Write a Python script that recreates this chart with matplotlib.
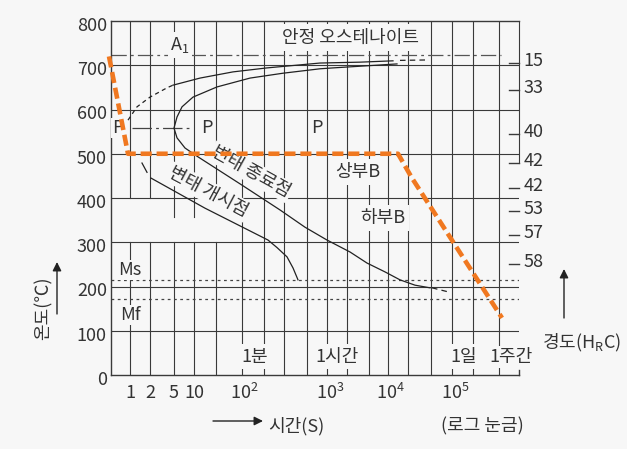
import numpy as np
import matplotlib.pyplot as plt

plt.rcParams['font.family'] = ['Noto Sans CJK KR', 'DejaVu Sans']
plt.rcParams['lines.scale_dashes'] = False

# 축: 가로 위치(그림 위 격자 단위, 로그 시간 개략), 세로 온도(℃)
temp_ticks = [0, 100, 200, 300, 400, 500, 600, 700, 800]
grid_x = [19, 39, 63, 83, 105, 131, 153, 173, 196, 216, 236, 258, 277, 297, 320, 341, 362, 388]
time_tick_pos = [19, 39, 63, 83, 131, 216, 277, 341]
time_tick_lab = ['1', '2', '5', '10', '10$^{\\mathregular{2}}$', '10$^{\\mathregular{3}}$',
                 '10$^{\\mathregular{4}}$', '10$^{\\mathregular{5}}$']
# 빈칸이 있는 격자선 (x, 아래, 위)
grid_gaps = {19: (300, 400), 39: (300, 400), 63: (300, 357), 83: (300, 357), 105: (300, 390)}

# 경도 눈금
hrc_pos = [710, 649, 549, 484, 427, 375, 321, 255]
hrc_lab = ['15', '33', '40', '42', '42', '53', '57', '58']

A1 = 723
Ms = 215
Mf = 172
nose_t = 558

# 변태 개시점 (윗부분 점선 + 실선, 아랫부분 점선 + 실선)
start_up_dash_x = [17, 26, 39, 56, 62]
start_up_dash_y = [576, 606, 628, 649, 655]
start_up_x = [62, 89, 122, 156, 209, 249, 282]
start_up_y = [655, 671, 685, 694, 705, 707, 710]
start_up_tail_x = [289, 317]
start_up_tail_y = [711, 712]
start_lo_dash_x = [31, 36]
start_lo_dash_y = [479, 458]
start_lo_x = [40, 94, 157, 166, 176, 182, 187]
start_lo_y = [445, 377, 305, 288, 267, 242, 215]

# 변태 종료점
end_x = [286, 222, 209, 172, 139, 106, 82, 71, 66, 63, 66, 74, 87, 129, 169, 194, 216,
         239, 256, 274, 289, 304, 319]
end_y = [703, 694, 692, 682, 671, 651, 628, 606, 583, 558, 536, 513, 493, 432, 373, 334,
         305, 278, 253, 233, 215, 203, 197]
end_tail_x = [321, 337]
end_tail_y = [197, 188]

# 냉각 곡선 (주황)
cool_x = [-2, 17, 287, 301, 391]
cool_y = [720, 500, 500, 445, 129]

bg = '#f7f7f7'
ink = '#333333'
gc = '#3a3a3a'

fig = plt.figure(figsize=(6.27, 4.49), dpi=100, facecolor=bg)
ax = fig.add_axes([111/627, 74/449, 408/627, 354/449], facecolor=bg)
ax.set_xlim(0, 408)
ax.set_ylim(0, 800)
ax.set_xticks([])
ax.set_yticks([])
for s in ['left', 'top', 'bottom']:
    ax.spines[s].set_color(gc)
    ax.spines[s].set_linewidth(1.0)
ax.spines['right'].set_color(gc)
ax.spines['right'].set_bounds(480, 800)
ax.plot([408, 408], [0, 11], color=gc, lw=1.0, clip_on=False)

# 격자
for x in grid_x:
    if x in grid_gaps:
        lo, hi = grid_gaps[x]
        ax.plot([x, x], [0, lo], color=gc, lw=0.8, zorder=1)
        ax.plot([x, x], [hi, 800], color=gc, lw=0.8, zorder=1)
    else:
        ax.plot([x, x], [0, 800], color=gc, lw=0.8, zorder=1)
for t in temp_ticks[1:-1]:
    ax.plot([0, 408], [t, t], color=gc, lw=0.8, zorder=1)

ax.plot([0, 390], [A1, A1], color='#555555', lw=0.9, dashes=(11, 3, 2, 3), zorder=2)
ax.plot([21, 82], [nose_t, nose_t], color='#444444', lw=0.9, dashes=(14, 3, 2, 3), zorder=2)
ax.plot([0, 408], [Ms, Ms], color='#444444', lw=0.9, dashes=(2, 2.5), zorder=2)
ax.plot([0, 408], [Mf, Mf], color='#444444', lw=0.9, dashes=(2, 2.5), zorder=2)

# 변태 곡선
lc = '#222222'
ax.plot(start_up_dash_x, start_up_dash_y, color=lc, lw=0.9, dashes=(3, 2.5), zorder=3)
ax.plot(start_up_x, start_up_y, color=lc, lw=0.9, zorder=3)
ax.plot(start_up_tail_x, start_up_tail_y, color=lc, lw=0.9, dashes=(4, 3), zorder=3)
ax.plot(start_lo_dash_x, start_lo_dash_y, color=lc, lw=0.9, zorder=3)
ax.plot(start_lo_x, start_lo_y, color=lc, lw=0.9, zorder=3)
ax.plot(end_x, end_y, color=lc, lw=0.9, zorder=3)
ax.plot(end_tail_x, end_tail_y, color=lc, lw=0.9, dashes=(4, 3), zorder=3)

# 글자 (배경상자로 격자를 끊음)
box = dict(boxstyle='square,pad=0.15', fc=bg, ec='none')
fs = 13
def label(x, y, s, rot=0, pad=0.15, **kw):
    ax.text(x, y, s, fontsize=fs, color=ink, ha='center', va='center', rotation=rot,
            rotation_mode='anchor', zorder=4,
            bbox=dict(boxstyle='square,pad=%s' % pad, fc=bg, ec='none'), **kw)

label(69, 746, 'A$_{\\mathregular{1}}$')
label(239, 762, '안정 오스테나이트', pad=0.25)
label(7, 558, 'P', pad=0.05)
label(96, 558, 'P', pad=0.05)
label(206, 558, 'P', pad=0.05)
label(140, 459, '변태 종료점', rot=-29, pad=0.1)
label(97, 414, '변태 개시점', rot=-28, pad=0.1)
label(247, 459, '상부B', pad=0.2)
label(272, 355, '하부B', pad=0.2)
label(19, 237, 'Ms', pad=0.05)
label(19, 136, 'Mf', pad=0.05)
label(144, 41, '1분', pad=0.2)
label(226, 41, '1시간', pad=0.2)
label(353, 41, '1일', pad=0.2)
label(400, 41, '1주간', pad=0.1)

# 냉각 곡선
ax.plot(cool_x, cool_y, color='#f07820', lw=3.3, dashes=(8, 3.5), solid_capstyle='butt',
        zorder=5, clip_on=False)

# 눈금 글자
for t in temp_ticks:
    ax.annotate(str(t), xy=(0, t), xycoords=('axes fraction', 'data'), xytext=(-3, -3.5),
                textcoords='offset points', ha='right', va='center', fontsize=fs, color=ink)
for p, s in zip(time_tick_pos, time_tick_lab):
    ax.annotate(s, xy=(p, 0), xycoords=('data', 'axes fraction'), xytext=(2 if '$' in s else 0, -13),
                textcoords='offset points', ha='center', va='center', fontsize=fs, color=ink)
for p, s in zip(hrc_pos, hrc_lab):
    ax.plot([0.975, 1.0], [p - 4, p - 4], color=gc, lw=1.0, transform=ax.get_yaxis_transform(),
            clip_on=False)
    ax.annotate(s, xy=(1, p), xycoords=('axes fraction', 'data'), xytext=(3, 0),
                textcoords='offset points', ha='left', va='center', fontsize=fs, color=ink)

# 축 이름과 화살표
def fx(px):
    return px / 627
def fy(py):
    return 1 - py / 449

fig.text(fx(44), fy(308), '온도(℃)', rotation=90, ha='center', va='center', fontsize=fs, color=ink)
fig.text(fx(268), fy(426), '시간(S)', ha='left', va='center', fontsize=fs, color=ink)
fig.text(fx(482), fy(426), '(로그 눈금)', ha='center', va='center', fontsize=fs, color=ink)
fig.text(fx(542), fy(343), '경도(H$_{\\mathregular{R}}$C)', ha='left', va='center', fontsize=fs, color=ink)

arr = dict(arrowstyle='-|>', color='#222222', lw=1.0, mutation_scale=13, shrinkA=0, shrinkB=0)
ax.annotate('', xy=(57, 449 - 262), xytext=(57, 449 - 314), xycoords='figure pixels', arrowprops=arr)
ax.annotate('', xy=(263, 449 - 421), xytext=(213, 449 - 421), xycoords='figure pixels', arrowprops=arr)
ax.annotate('', xy=(564, 449 - 269), xytext=(564, 449 - 318), xycoords='figure pixels', arrowprops=arr)

fig.savefig('out.png', dpi=100, facecolor=bg)
